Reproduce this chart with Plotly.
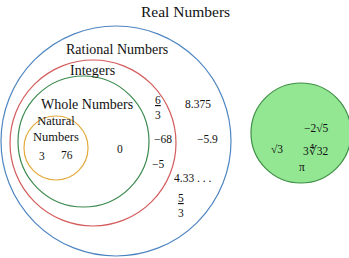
import plotly.graph_objects as go

# ---- data ----
set_names = ["Real Numbers", "Rational Numbers", "Integers", "Whole Numbers", "Natural<br>Numbers"]
natural_members = ["3", "76"]
whole_members = ["0"]
integer_members = ["<u>6</u><br>3", "−68", "−5"]
rational_members = ["8.375", "−5.9", "4.33 . . .", "<u>5</u><br>3"]
irrational_members = ["−2√5", "√3", "3∜32", "π"]

# ---- layout (pixel space of the page) ----
W, H = 349, 258
circles = [  # cx, cy, r, line color, fill
    (116, 141, 115, "#4f86c0", None),
    (93, 143, 83, "#d45b5b", None),
    (83.5, 141.5, 65.5, "#3b8a4e", None),
    (56, 148, 32, "#e3a93a", None),
    (301, 133, 50, "#3d8f45", "#93e793"),
]
label_pos = [(185, 11, 15.5), (117, 49, 14), (92, 70, 14), (87, 104, 14), (55.5, 129, 12.5)]
natural_pos = [(42, 156), (67, 155)]
whole_pos = [(120, 149)]
integer_pos = [(158, 107), (163, 139), (158, 164)]
rational_pos = [(198, 104), (207, 139), (193, 178), (181, 205)]
irrational_pos = [(316, 128), (277, 149), (316, 150), (302, 167)]

FONT = "Liberation Serif"
fig = go.Figure()
shapes = []
for cx, cy, r, col, fill in circles:
    shapes.append(dict(type="circle", xref="x", yref="y", x0=cx - r, x1=cx + r, y0=cy - r, y1=cy + r,
                       line=dict(color=col, width=1.2), fillcolor=fill if fill else "rgba(0,0,0,0)",
                       layer="below"))

anns = []
for name, (x, y, s) in zip(set_names, label_pos):
    anns.append(dict(x=x, y=y, text=name, font=dict(size=s, family=FONT, color="#111")))
for members, pos in [(natural_members, natural_pos), (whole_members, whole_pos),
                     (integer_members, integer_pos), (rational_members, rational_pos),
                     (irrational_members, irrational_pos)]:
    for t, (x, y) in zip(members, pos):
        anns.append(dict(x=x, y=y, text=t, font=dict(size=11.5, family=FONT, color="#111")))
for a in anns:
    a.update(xref="x", yref="y", showarrow=False, xanchor="center", yanchor="middle")

fig.update_layout(
    width=W, height=H, margin=dict(l=0, r=0, t=0, b=0),
    paper_bgcolor="white", plot_bgcolor="white",
    xaxis=dict(range=[0, W], visible=False, fixedrange=True),
    yaxis=dict(range=[H, 0], visible=False, fixedrange=True),
    shapes=shapes, annotations=anns, showlegend=False,
)
fig.write_html("out.html", post_script="document.body.style.margin='0';",
               config={"displayModeBar": False})
